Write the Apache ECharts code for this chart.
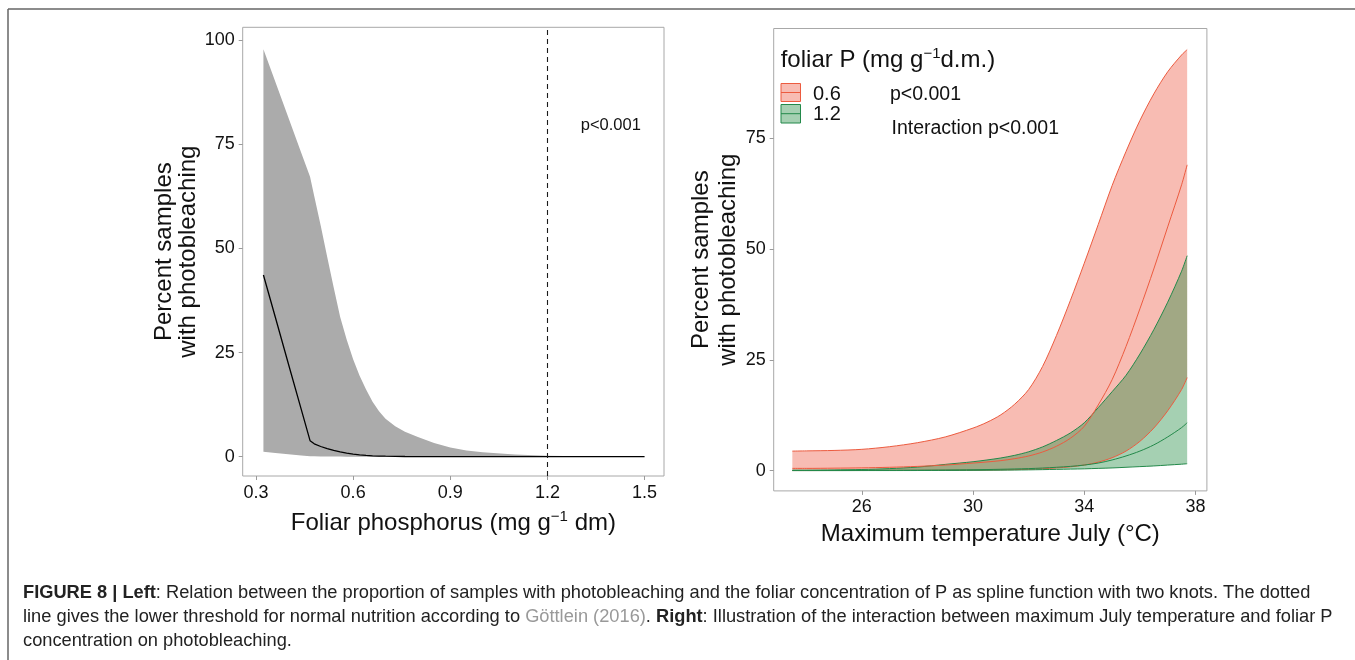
<!DOCTYPE html>
<html>
<head>
<meta charset="utf-8">
<script src="https://cdn.jsdelivr.net/npm/echarts@6/dist/echarts.min.js"></script>
<style>
html,body{margin:0;padding:0;background:#fff;}
#chart{width:1355px;height:660px;}
</style>
</head>
<body>
<div id="chart"></div>
<script>
// ---------- Left panel data: foliar phosphorus ----------
const phosX     = [0.323, 0.36, 0.40, 0.44, 0.467, 0.48, 0.50, 0.52, 0.54, 0.56, 0.58, 0.60, 0.62, 0.64, 0.66, 0.68, 0.70, 0.73, 0.76, 0.80, 0.85, 0.90, 0.95, 1.0, 1.1, 1.2, 1.3, 1.4, 1.5];
const phosUpper = [97.8, 89.9, 81.4, 72.9, 67.2, 62.5, 55.4, 47.9, 40.6, 33.5, 28.1, 23.4, 19.4, 16.1, 13.2, 10.9, 9.1, 7.3, 6.0, 4.7, 3.3, 2.2, 1.5, 1.05, 0.5, 0.22, 0.1, 0.05, 0.02];
const phosLower = [1.2, 0.9, 0.6, 0.3, 0.12, 0.08, 0.05, 0.03, 0.02, 0.02, 0.01, 0.01, 0.01, 0.01, 0, 0, 0, 0, 0, 0, 0, 0, 0, 0, 0, 0, 0, 0, 0];
const phosMean  = [43.6, 33.4, 22.3, 11.3, 3.85, 3.1, 2.45, 1.95, 1.5, 1.15, 0.85, 0.6, 0.42, 0.3, 0.22, 0.16, 0.12, 0.08, 0.05, 0.03, 0.02, 0.02, 0.01, 0.01, 0.01, 0, 0, 0, 0];
const phosThreshold = 1.2;
const leftXTicks = [0.3, 0.6, 0.9, 1.2, 1.5];
const leftYTicks = [0, 25, 50, 75, 100];

// ---------- Right panel data: maximum July temperature ----------
const tempX        = [23.5, 24, 25, 26, 27, 28, 29, 30, 30.5, 31, 31.5, 32, 32.5, 33, 33.5, 34, 34.5, 35, 35.5, 36, 36.5, 37, 37.5, 37.7];
const p06Upper     = [4.4, 4.45, 4.55, 4.8, 5.4, 6.3, 7.6, 9.6, 10.9, 12.6, 15.0, 18.3, 23.5, 30.5, 38.4, 46.8, 55.5, 64.3, 72.0, 79.0, 85.0, 90.0, 93.8, 95.0];
const p06Mean      = [0.5, 0.5, 0.55, 0.62, 0.75, 0.95, 1.25, 1.7, 1.95, 2.25, 2.7, 3.3, 4.2, 5.5, 7.3, 10.0, 14.8, 20.5, 28.0, 36.5, 45.5, 55.0, 64.5, 69.0];
const p06Lower     = [0.01, 0.01, 0.02, 0.02, 0.03, 0.05, 0.07, 0.1, 0.12, 0.17, 0.22, 0.3, 0.42, 0.6, 0.85, 1.25, 1.9, 2.9, 4.4, 6.6, 9.6, 13.5, 18.3, 21.0];
const p12Upper     = [0.1, 0.1, 0.15, 0.25, 0.45, 0.8, 1.4, 2.0, 2.4, 2.85, 3.45, 4.25, 5.35, 6.8, 8.5, 10.8, 14.2, 17.8, 21.5, 26.3, 31.8, 38.0, 45.0, 48.5];
const p12Mean      = [0.03, 0.03, 0.04, 0.05, 0.07, 0.1, 0.14, 0.2, 0.24, 0.3, 0.37, 0.45, 0.58, 0.75, 0.95, 1.25, 1.7, 2.4, 3.3, 4.4, 5.8, 7.6, 9.7, 10.8];
const p12Lower     = [0, 0, 0, 0.01, 0.01, 0.02, 0.04, 0.06, 0.08, 0.1, 0.13, 0.17, 0.22, 0.28, 0.34, 0.4, 0.5, 0.6, 0.75, 0.9, 1.05, 1.25, 1.45, 1.55];
const legendLabels = ['0.6', '1.2'];
const rightXTicks = [26, 30, 34, 38];
const rightYTicks = [0, 25, 50, 75];

// ---------- Styles ----------
const FONT = "'Liberation Sans', Arial, sans-serif";
const RED_LINE = '#EC5B3F';
const RED_FILL = 'rgba(238,95,75,0.42)';
const GREEN_LINE = '#23894A';
const GREEN_FILL = 'rgba(30,137,63,0.40)';
const TXT = '#111';
const CAP = 18.25;

const pairs = (xs, ys) => xs.map((x, i) => [x, ys[i]]);
// value first, x second (encode swaps them) so that stacking acts on the y dimension
const yxPairs = (xs, ys) => xs.map((x, i) => [ys[i], x]);
const yxDiff = (xs, up, lo) => xs.map((x, i) => [+(up[i] - lo[i]).toFixed(4), x]);
const SWAP = { x: 1, y: 0 };

function axisCommon(ticks, margin) {
  return {
    type: 'value',
    axisLine: { show: false, onZero: false },
    splitLine: { show: false },
    axisTick: { show: true, customValues: ticks, length: 4, lineStyle: { color: '#9a9a9a', width: 1 } },
    axisLabel: { customValues: ticks, fontSize: 18, color: TXT, fontFamily: FONT, margin: margin }
  };
}

const chart = echarts.init(document.getElementById('chart'), null, { renderer: 'canvas' });

const option = {
  animation: false,
  backgroundColor: '#fff',
  grid: [
    { left: 242.7, top: 27.3, width: 421.3, height: 448.7, show: true, borderColor: '#a8a8a8', borderWidth: 1, backgroundColor: 'transparent' },
    { left: 773.7, top: 28.5, width: 433.2, height: 462.4, show: true, borderColor: '#a8a8a8', borderWidth: 1, backgroundColor: 'transparent' }
  ],
  xAxis: [
    Object.assign(axisCommon(leftXTicks, 8), {
      gridIndex: 0, min: 0.259, max: 1.560,
      name: 'Foliar phosphorus (mg g{sup|\u22121} dm)', nameLocation: 'middle', nameGap: 33,
      nameTextStyle: { fontSize: 24, color: TXT, fontFamily: FONT, lineHeight: 28,
        rich: { sup: { fontSize: 15, fontFamily: FONT, color: TXT, padding: [0, 0, 12, 0] } } }
    }),
    Object.assign(axisCommon(rightXTicks, 7), {
      gridIndex: 1, min: 22.83, max: 38.41,
      name: 'Maximum temperature July (\u00B0C)', nameLocation: 'middle', nameGap: 24,
      nameTextStyle: { fontSize: 24, color: TXT, fontFamily: FONT, lineHeight: 28 }
    })
  ],
  yAxis: [
    Object.assign(axisCommon(leftYTicks, 8), {
      gridIndex: 0, min: -4.63, max: 103.05,
      name: 'Percent samples\nwith photobleaching', nameLocation: 'middle', nameGap: 37,
      nameTextStyle: { fontSize: 24, color: TXT, fontFamily: FONT, lineHeight: 24.5 }
    }),
    Object.assign(axisCommon(rightYTicks, 8), {
      gridIndex: 1, min: -4.58, max: 99.77,
      name: 'Percent samples\nwith photobleaching', nameLocation: 'middle', nameGap: 30,
      nameTextStyle: { fontSize: 24, color: TXT, fontFamily: FONT, lineHeight: 27 }
    })
  ],
  series: [
    // Left: grey confidence band
    { type: 'line', xAxisIndex: 0, yAxisIndex: 0, stack: 'phos', encode: SWAP, data: yxPairs(phosX, phosLower),
      symbol: 'none', lineStyle: { width: 0, opacity: 0 }, silent: true },
    { type: 'line', xAxisIndex: 0, yAxisIndex: 0, stack: 'phos', encode: SWAP, data: yxDiff(phosX, phosUpper, phosLower),
      symbol: 'none', lineStyle: { width: 0, opacity: 0 }, areaStyle: { color: '#ABABAB', opacity: 1 }, silent: true },
    // Left: fitted line + threshold
    { type: 'line', xAxisIndex: 0, yAxisIndex: 0, data: pairs(phosX, phosMean),
      symbol: 'none', lineStyle: { color: '#000', width: 1.3 }, silent: true,
      markLine: { silent: true, symbol: 'none', label: { show: false },
        lineStyle: { type: [5, 4], color: '#1a1a1a', width: 1.1 },
        data: [{ xAxis: phosThreshold }] } },

    // Right: 0.6 ribbon
    { type: 'line', xAxisIndex: 1, yAxisIndex: 1, stack: 'p06', encode: SWAP, data: yxPairs(tempX, p06Lower),
      symbol: 'none', smooth: 0.3, lineStyle: { width: 0, opacity: 0 }, silent: true },
    { type: 'line', xAxisIndex: 1, yAxisIndex: 1, stack: 'p06', encode: SWAP, data: yxDiff(tempX, p06Upper, p06Lower),
      symbol: 'none', smooth: 0.3, lineStyle: { color: RED_LINE, width: 1 }, areaStyle: { color: RED_FILL, opacity: 1 }, silent: true },
    { type: 'line', xAxisIndex: 1, yAxisIndex: 1, data: pairs(tempX, p06Lower),
      symbol: 'none', smooth: 0.3, lineStyle: { color: RED_LINE, width: 1 }, silent: true },
    // Right: 1.2 ribbon
    { type: 'line', xAxisIndex: 1, yAxisIndex: 1, stack: 'p12', encode: SWAP, data: yxPairs(tempX, p12Lower),
      symbol: 'none', smooth: 0.3, lineStyle: { width: 0, opacity: 0 }, silent: true },
    { type: 'line', xAxisIndex: 1, yAxisIndex: 1, stack: 'p12', encode: SWAP, data: yxDiff(tempX, p12Upper, p12Lower),
      symbol: 'none', smooth: 0.3, lineStyle: { color: GREEN_LINE, width: 1 }, areaStyle: { color: GREEN_FILL, opacity: 1 }, silent: true },
    { type: 'line', xAxisIndex: 1, yAxisIndex: 1, data: pairs(tempX, p12Lower),
      symbol: 'none', smooth: 0.3, lineStyle: { color: GREEN_LINE, width: 1 }, silent: true },
    // Right: fitted lines
    { type: 'line', xAxisIndex: 1, yAxisIndex: 1, data: pairs(tempX, p06Mean),
      symbol: 'none', smooth: 0.3, lineStyle: { color: RED_LINE, width: 1 }, silent: true },
    { type: 'line', xAxisIndex: 1, yAxisIndex: 1, data: pairs(tempX, p12Mean),
      symbol: 'none', smooth: 0.3, lineStyle: { color: GREEN_LINE, width: 1 }, silent: true }
  ],
  graphic: [
    // outer figure frame (top and left edges)
    { type: 'line', shape: { x1: 8, y1: 9, x2: 1355, y2: 9 }, style: { stroke: '#666', lineWidth: 1.5 }, silent: true },
    { type: 'line', shape: { x1: 8, y1: 9, x2: 8, y2: 660 }, style: { stroke: '#666', lineWidth: 1.5 }, silent: true },
    // left annotation
    { type: 'text', x: 580.8, y: 125, style: { text: 'p<0.001', fontSize: 16.5, fontFamily: FONT, fill: TXT, verticalAlign: 'middle' }, silent: true },
    // right legend
    { type: 'text', x: 780.7, y: 60, style: { text: 'foliar P (mg g{sup|\u22121}d.m.)', fontSize: 24, fontFamily: FONT, fill: TXT, verticalAlign: 'middle',
        rich: { sup: { fontSize: 15, fontFamily: FONT, fill: TXT, padding: [0, 0, 12, 0] } } }, silent: true },
    { type: 'rect', shape: { x: 781, y: 83.5, width: 19.5, height: 18 }, style: { fill: RED_FILL, stroke: RED_LINE, lineWidth: 1 }, silent: true },
    { type: 'line', shape: { x1: 781, y1: 92.5, x2: 800.5, y2: 92.5 }, style: { stroke: RED_LINE, lineWidth: 1 }, silent: true },
    { type: 'rect', shape: { x: 781, y: 104.5, width: 19.5, height: 18.5 }, style: { fill: GREEN_FILL, stroke: GREEN_LINE, lineWidth: 1 }, silent: true },
    { type: 'line', shape: { x1: 781, y1: 113.7, x2: 800.5, y2: 113.7 }, style: { stroke: GREEN_LINE, lineWidth: 1 }, silent: true },
    { type: 'text', x: 813, y: 94, style: { text: legendLabels[0], fontSize: 20, fontFamily: FONT, fill: TXT, verticalAlign: 'middle' }, silent: true },
    { type: 'text', x: 813, y: 114, style: { text: legendLabels[1], fontSize: 20, fontFamily: FONT, fill: TXT, verticalAlign: 'middle' }, silent: true },
    { type: 'text', x: 890, y: 95, style: { text: 'p<0.001', fontSize: 19.5, fontFamily: FONT, fill: TXT, verticalAlign: 'middle' }, silent: true },
    { type: 'text', x: 891.5, y: 128.5, style: { text: 'Interaction p<0.001', fontSize: 19.5, fontFamily: FONT, fill: TXT, verticalAlign: 'middle' }, silent: true },
    // caption
    { type: 'text', x: 23, y: 593, style: { text: '{b|FIGURE 8 | Left}: Relation between the proportion of samples with photobleaching and the foliar concentration of P as spline function with two knots. The dotted',
        fontSize: CAP, fontFamily: FONT, fill: '#222', verticalAlign: 'middle',
        rich: { b: { fontSize: CAP, fontFamily: FONT, fontWeight: 'bold', fill: '#222' } } }, silent: true },
    { type: 'text', x: 23, y: 617, style: { text: 'line gives the lower threshold for normal nutrition according to {g|G\u00F6ttlein (2016)}. {b|Right}: Illustration of the interaction between maximum July temperature and foliar P',
        fontSize: CAP, fontFamily: FONT, fill: '#222', verticalAlign: 'middle',
        rich: { b: { fontSize: CAP, fontFamily: FONT, fontWeight: 'bold', fill: '#222' }, g: { fontSize: CAP, fontFamily: FONT, fill: '#999' } } }, silent: true },
    { type: 'text', x: 23, y: 641, style: { text: 'concentration on photobleaching.', fontSize: CAP, fontFamily: FONT, fill: '#222', verticalAlign: 'middle' }, silent: true }
  ]
};
chart.setOption(option);
</script>
</body>
</html>
